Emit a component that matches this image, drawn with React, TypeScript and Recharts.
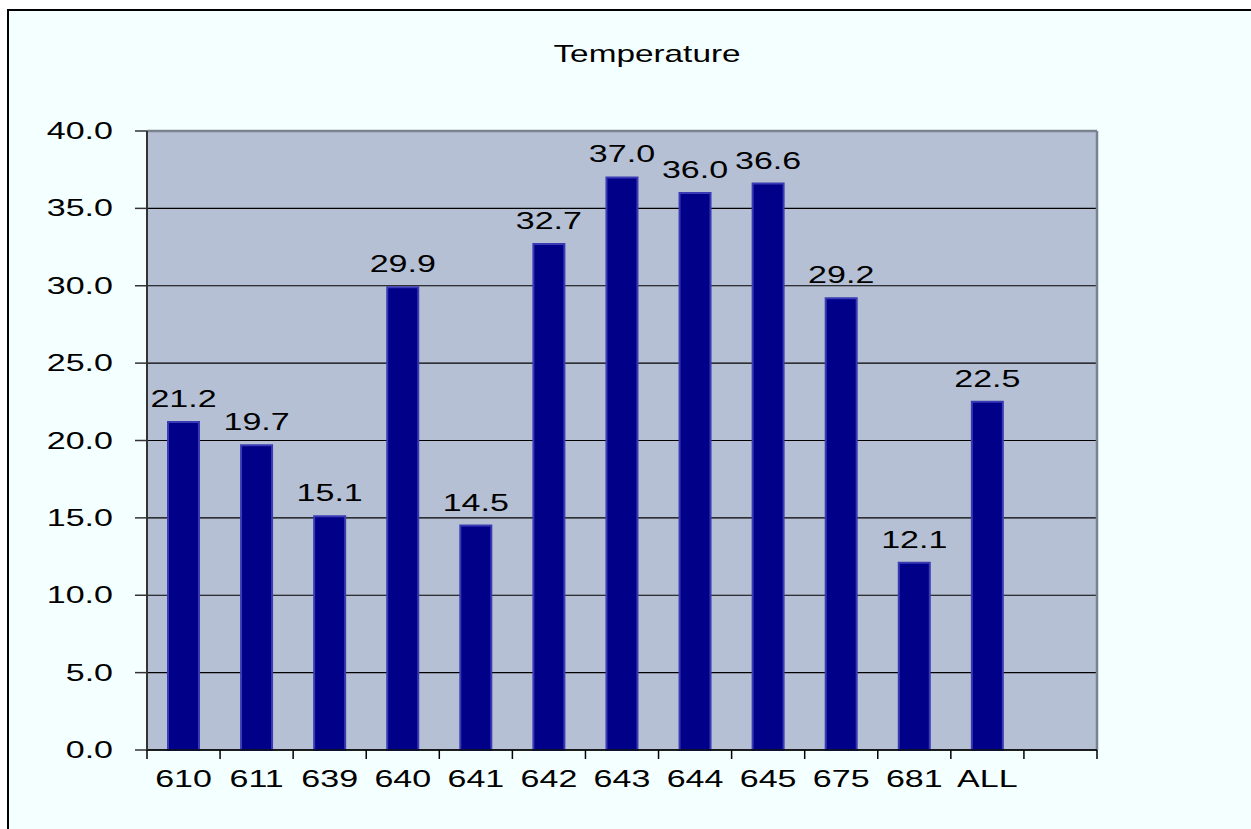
import React from 'react';
import { BarChart, Bar, XAxis, YAxis, CartesianGrid, LabelList } from 'recharts';

const categories = ['610', '611', '639', '640', '641', '642', '643', '644', '645', '675', '681', 'ALL', ''];
const temperatures: (number | null)[] = [21.2, 19.7, 15.1, 29.9, 14.5, 32.7, 37.0, 36.0, 36.6, 29.2, 12.1, 22.5, null];
const yTicks = [0, 5, 10, 15, 20, 25, 30, 35, 40];
const chartTitle = 'Temperature';

const data = categories.map((c, i) => ({ name: c, value: temperatures[i] }));

const W = 1251;
const H = 829;
const PLOT_L = 147;
const PLOT_T = 131;
const PLOT_R = 1097;
const PLOT_B = 750;
const YAXIS_W = 100;
const XAXIS_H = 50;
const FS = 23;
const SX = 1.48;
const FONT = '"Liberation Sans", Arial, Helvetica, sans-serif';
const SLOT = (PLOT_R - PLOT_L) / categories.length;

const YTick = (props: any) => {
  const { x, y, payload } = props;
  return (
    <text
      transform={`translate(${x},${y + 8}) scale(${SX},1)`}
      textAnchor="end"
      fontSize={FS}
      fontFamily={FONT}
      fill="#000"
    >
      {Number(payload.value).toFixed(1)}
    </text>
  );
};

const XTick = (props: any) => {
  const { x, payload, index } = props;
  const last = index === categories.length - 1;
  return (
    <g>
      <line x1={x - SLOT / 2} x2={x - SLOT / 2} y1={PLOT_B} y2={PLOT_B + 9} stroke="#000" strokeWidth={1.5} />
      {last && (
        <line x1={x + SLOT / 2} x2={x + SLOT / 2} y1={PLOT_B} y2={PLOT_B + 9} stroke="#000" strokeWidth={1.5} />
      )}
      <text
        transform={`translate(${x},${PLOT_B + 37}) scale(${SX},1)`}
        textAnchor="middle"
        fontSize={FS}
        fontFamily={FONT}
        fill="#000"
      >
        {payload.value}
      </text>
    </g>
  );
};

const BarLabel = (props: any) => {
  const { x, y, width, value } = props;
  if (value === null || value === undefined) return null;
  return (
    <text
      transform={`translate(${Number(x) + Number(width) / 2},${Number(y) - 15}) scale(${SX},1)`}
      textAnchor="middle"
      fontSize={FS}
      fontFamily={FONT}
      fill="#000"
    >
      {Number(value).toFixed(1)}
    </text>
  );
};

export default function App() {
  return (
    <div
      style={{
        position: 'absolute',
        left: 0,
        top: 0,
        width: W,
        height: H,
        overflow: 'hidden',
        background: '#ffffff',
      }}
    >
      <div
        style={{
          position: 'absolute',
          left: 7,
          top: 9,
          width: W + 20,
          height: H + 20,
          borderLeft: '2px solid #000',
          borderTop: '2px solid #000',
          background: '#F4FFFF',
        }}
      />
      <svg style={{ position: 'absolute', left: 0, top: 0 }} width={W} height={100}>
        <text
          transform={`translate(647,62) scale(1.45,1)`}
          textAnchor="middle"
          fontSize={FS}
          fontFamily={FONT}
          fill="#000"
        >
          {chartTitle}
        </text>
      </svg>
      <div style={{ position: 'absolute', left: 0, top: 0 }}>
        <BarChart
          width={W}
          height={H}
          data={data}
          margin={{
            top: PLOT_T,
            left: PLOT_L - YAXIS_W,
            right: W - PLOT_R,
            bottom: H - PLOT_B - XAXIS_H,
          }}
          barCategoryGap={0}
        >
          <CartesianGrid
            vertical={false}
            stroke="#000"
            strokeWidth={1.2}
            fill="#B6C0D4"
            fillOpacity={1}
          />
          <CartesianGrid
            fill="none"
            stroke="#7A828E"
            strokeWidth={2.5}
            horizontalCoordinatesGenerator={({ offset }: any) => [offset.top]}
            verticalCoordinatesGenerator={({ offset }: any) => [offset.left + offset.width]}
          />
          <XAxis
            dataKey="name"
            interval={0}
            height={XAXIS_H}
            tickLine={false}
            axisLine={{ stroke: '#000', strokeWidth: 1.5 }}
            tick={<XTick />}
          />
          <YAxis
            width={YAXIS_W}
            domain={[0, 40]}
            ticks={yTicks}
            interval={0}
            tickSize={12}
            tickMargin={22}
            axisLine={{ stroke: '#333', strokeWidth: 2 }}
            tickLine={{ stroke: '#333', strokeWidth: 1.5 }}
            tick={<YTick />}
          />
          <Bar
            dataKey="value"
            fill="#000088"
            stroke="#3A3AB4"
            strokeWidth={2}
            barSize={31}
            isAnimationActive={false}
          >
            <LabelList dataKey="value" content={<BarLabel />} />
          </Bar>
        </BarChart>
      </div>
    </div>
  );
}
